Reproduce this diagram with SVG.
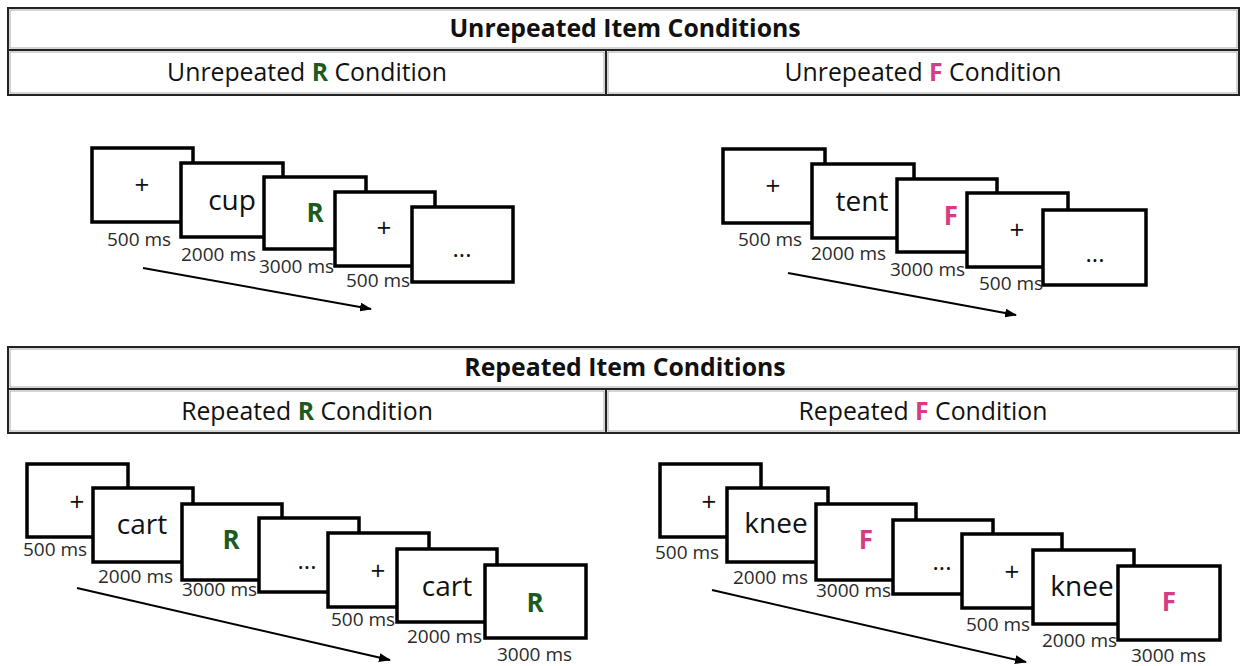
<svg xmlns="http://www.w3.org/2000/svg" width="1242" height="666" viewBox="0 0 1242 666">
<style>
.bg{fill:#fff}
.hdr{fill:#fff;stroke:#222;stroke-width:2}
.hin{fill:none;stroke:#aaa;stroke-width:1}
.fr{fill:#fff;stroke:#000;stroke-width:3.5}
.t{font-family:"Open Sans","Noto Sans",sans-serif;fill:#111}
.title{font-size:24.8px;font-weight:bold;text-anchor:middle}
.sub{font-size:24.8px;text-anchor:middle}
.word{font-size:28px;text-anchor:middle}
.plus{font-size:26px;text-anchor:middle}
.dots{font-size:24px;text-anchor:middle}
.R{font-size:26px;font-weight:bold;text-anchor:middle;fill:#1d5a1d}
.F{font-size:26px;font-weight:bold;text-anchor:middle;fill:#d63c83}
.g{fill:#1d5a1d;font-weight:bold}
.p{fill:#d63c83;font-weight:bold}
.ms{font-size:19px;fill:#2a2a2a}
.arr{stroke:#000;stroke-width:2;fill:none}
</style>
<defs>
<marker id="ah" markerWidth="12" markerHeight="9" refX="11" refY="4.5" orient="auto" markerUnits="userSpaceOnUse">
<path d="M0,0 L12,4.5 L0,9 Z" fill="#000"/>
</marker>
</defs>
<rect class="bg" x="0" y="0" width="1242" height="666"/>

<g id="header-unrepeated">
<rect class="hdr" x="8" y="8" width="1231" height="42"/>
<rect class="hin" x="10" y="10" width="1227" height="38"/>
<rect class="hdr" x="8" y="50" width="598" height="45"/>
<rect class="hin" x="10" y="52" width="594" height="41"/>
<rect class="hdr" x="606" y="50" width="633" height="45"/>
<rect class="hin" x="608" y="52" width="629" height="41"/>
<text class="t title" x="625" y="37">Unrepeated Item Conditions</text>
<text class="t sub" x="307" y="81">Unrepeated <tspan class="g">R</tspan> Condition</text>
<text class="t sub" x="923" y="81">Unrepeated <tspan class="p">F</tspan> Condition</text>
</g>

<g id="header-repeated">
<rect class="hdr" x="8" y="347" width="1231" height="42"/>
<rect class="hin" x="10" y="349" width="1227" height="38"/>
<rect class="hdr" x="8" y="389" width="598" height="44"/>
<rect class="hin" x="10" y="391" width="594" height="40"/>
<rect class="hdr" x="606" y="389" width="633" height="44"/>
<rect class="hin" x="608" y="391" width="629" height="40"/>
<text class="t title" x="625" y="376">Repeated Item Conditions</text>
<text class="t sub" x="307" y="420">Repeated <tspan class="g">R</tspan> Condition</text>
<text class="t sub" x="923" y="420">Repeated <tspan class="p">F</tspan> Condition</text>
</g>

<g id="connectors">
<line class="arr" x1="143" y1="268" x2="371" y2="309" marker-end="url(#ah)"/>
<line class="arr" x1="788" y1="273" x2="1016" y2="315" marker-end="url(#ah)"/>
<line class="arr" x1="77" y1="588" x2="390" y2="660" marker-end="url(#ah)"/>
<line class="arr" x1="712" y1="590" x2="1026" y2="662" marker-end="url(#ah)"/>
</g>

<g id="unrepeated-R">
<g id="uR1"><rect class="fr" x="92" y="148" width="101" height="74"/><text class="t plus" x="142" y="194">+</text></g>
<g id="uR2"><rect class="fr" x="181" y="163" width="102" height="74"/><text class="t word" x="232" y="210">cup</text></g>
<g id="uR3"><rect class="fr" x="264" y="177" width="102" height="72"/><text class="t R" x="315" y="222">R</text></g>
<g id="uR4"><rect class="fr" x="335" y="192" width="100" height="74"/><text class="t plus" x="384" y="237">+</text></g>
<g id="uR5"><rect class="fr" x="412" y="207" width="101" height="75"/><text class="t dots" x="462" y="257">...</text></g>
<text class="t ms" x="107" y="246">500 ms</text>
<text class="t ms" x="181" y="261">2000 ms</text>
<text class="t ms" x="259" y="273">3000 ms</text>
<text class="t ms" x="346" y="287">500 ms</text>
</g>

<g id="unrepeated-F">
<g id="uF1"><rect class="fr" x="723" y="149" width="102" height="74"/><text class="t plus" x="773" y="195">+</text></g>
<g id="uF2"><rect class="fr" x="812" y="164" width="102" height="74"/><text class="t word" x="862" y="211">tent</text></g>
<g id="uF3"><rect class="fr" x="897" y="179" width="100" height="73"/><text class="t F" x="951" y="225">F</text></g>
<g id="uF4"><rect class="fr" x="967" y="193" width="101" height="74"/><text class="t plus" x="1017" y="239">+</text></g>
<g id="uF5"><rect class="fr" x="1043" y="210" width="103" height="75"/><text class="t dots" x="1095" y="262">...</text></g>
<text class="t ms" x="738" y="246">500 ms</text>
<text class="t ms" x="811" y="260">2000 ms</text>
<text class="t ms" x="890" y="276">3000 ms</text>
<text class="t ms" x="979" y="290">500 ms</text>
</g>

<g id="repeated-R">
<g id="rR1"><rect class="fr" x="27" y="464" width="101" height="73"/><text class="t plus" x="77" y="511">+</text></g>
<g id="rR2"><rect class="fr" x="93" y="488" width="100" height="74"/><text class="t word" x="142" y="534">cart</text></g>
<g id="rR3"><rect class="fr" x="182" y="504" width="100" height="76"/><text class="t R" x="231" y="549">R</text></g>
<g id="rR4"><rect class="fr" x="259" y="518" width="100" height="74"/><text class="t dots" x="307" y="569">...</text></g>
<g id="rR5"><rect class="fr" x="328" y="533" width="101" height="74"/><text class="t plus" x="378" y="580">+</text></g>
<g id="rR6"><rect class="fr" x="397" y="549" width="100" height="73"/><text class="t word" x="447" y="596">cart</text></g>
<g id="rR7"><rect class="fr" x="485" y="565" width="101" height="73"/><text class="t R" x="535" y="612">R</text></g>
<text class="t ms" x="23" y="556">500 ms</text>
<text class="t ms" x="98" y="583">2000 ms</text>
<text class="t ms" x="182" y="596">3000 ms</text>
<text class="t ms" x="331" y="626">500 ms</text>
<text class="t ms" x="407" y="643">2000 ms</text>
<text class="t ms" x="497" y="661">3000 ms</text>
</g>

<g id="repeated-F">
<g id="rF1"><rect class="fr" x="660" y="464" width="101" height="73"/><text class="t plus" x="709" y="511">+</text></g>
<g id="rF2"><rect class="fr" x="727" y="488" width="101" height="74"/><text class="t word" x="776" y="533">knee</text></g>
<g id="rF3"><rect class="fr" x="816" y="504" width="100" height="76"/><text class="t F" x="866" y="549">F</text></g>
<g id="rF4"><rect class="fr" x="893" y="520" width="100" height="74"/><text class="t dots" x="942" y="570">...</text></g>
<g id="rF5"><rect class="fr" x="962" y="534" width="100" height="74"/><text class="t plus" x="1012" y="581">+</text></g>
<g id="rF6"><rect class="fr" x="1033" y="550" width="101" height="74"/><text class="t word" x="1082" y="596">knee</text></g>
<g id="rF7"><rect class="fr" x="1118" y="566" width="102" height="74"/><text class="t F" x="1169" y="611">F</text></g>
<text class="t ms" x="655" y="559">500 ms</text>
<text class="t ms" x="733" y="584">2000 ms</text>
<text class="t ms" x="816" y="597">3000 ms</text>
<text class="t ms" x="966" y="631">500 ms</text>
<text class="t ms" x="1042" y="647">2000 ms</text>
<text class="t ms" x="1131" y="662">3000 ms</text>
</g>
</svg>
